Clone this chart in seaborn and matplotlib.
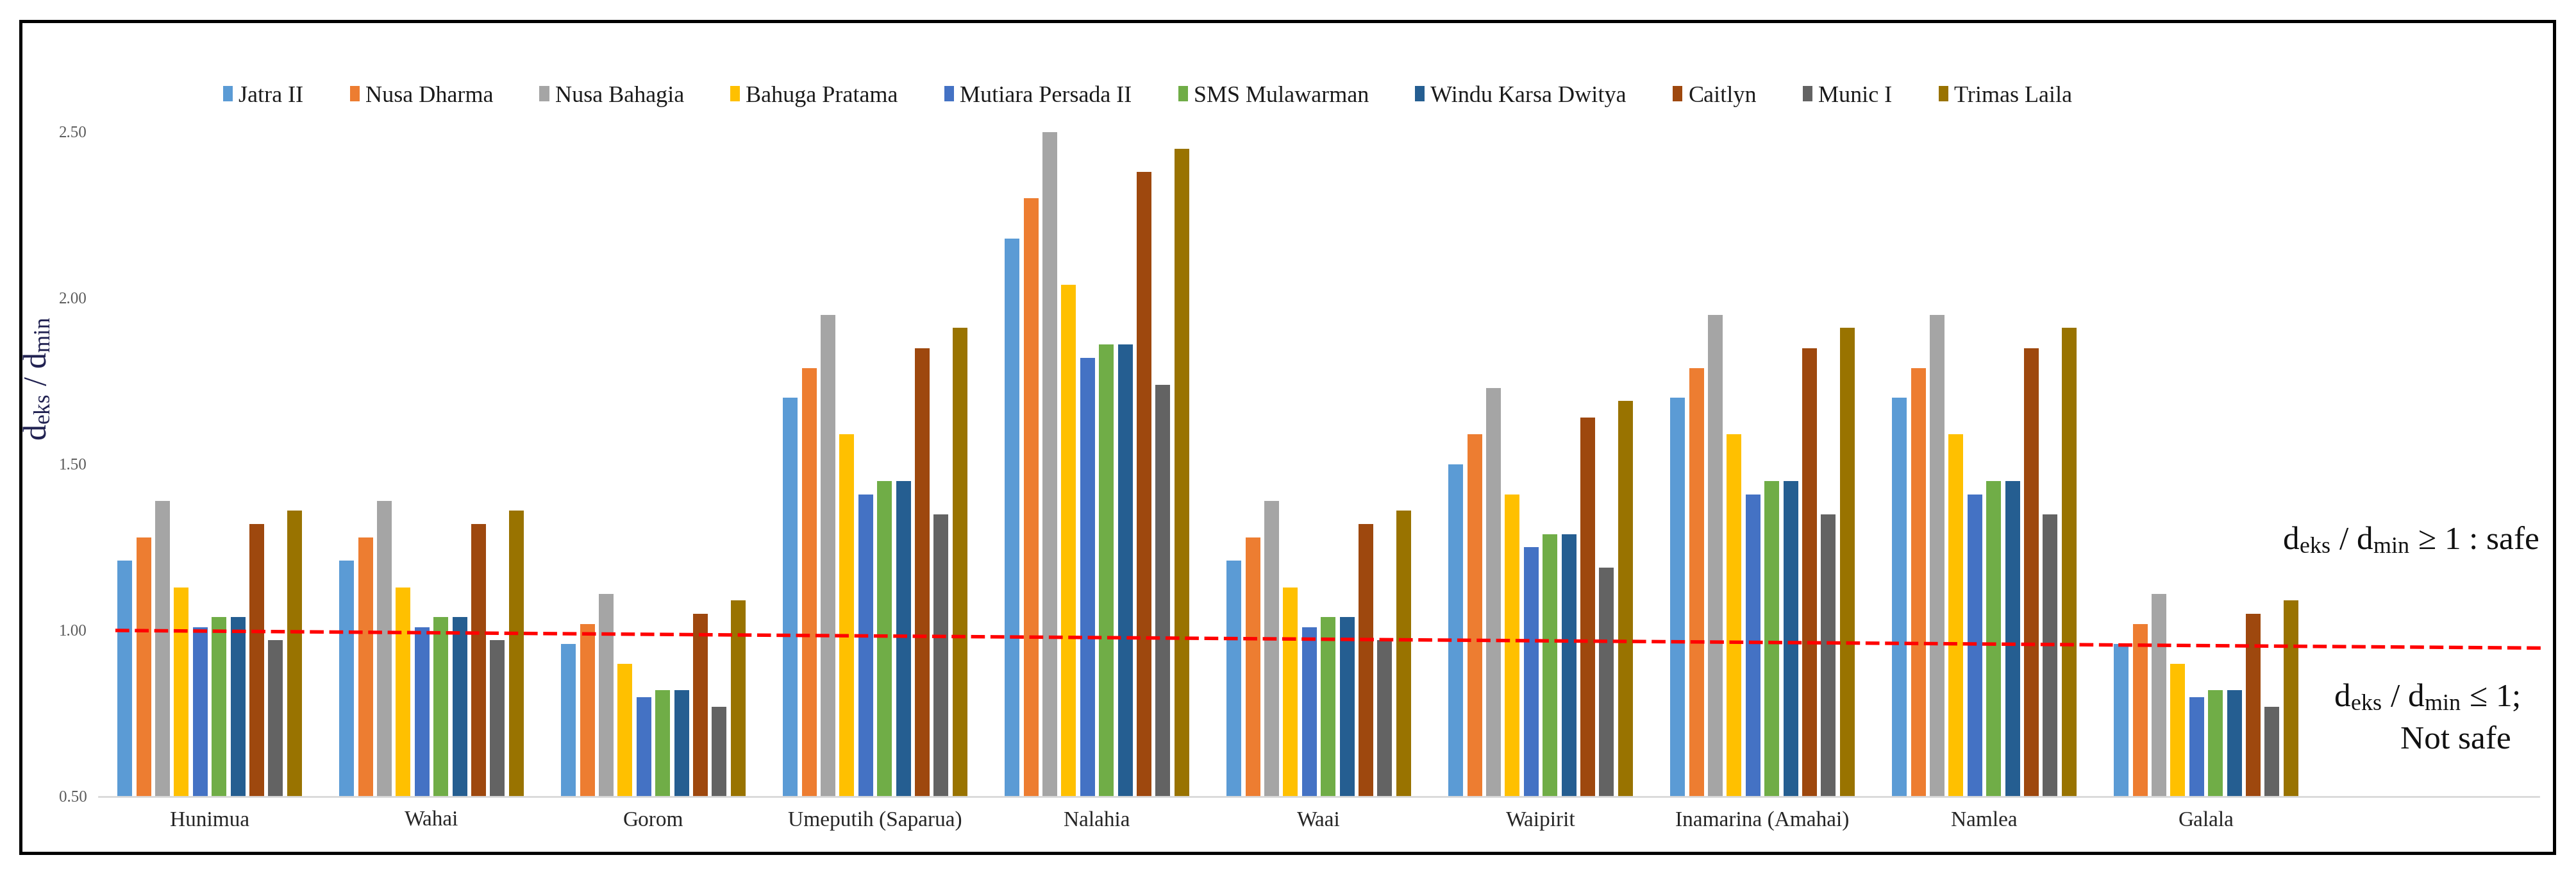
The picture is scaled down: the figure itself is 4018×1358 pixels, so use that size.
import numpy as np
import pandas as pd
import matplotlib
matplotlib.use("Agg")
import matplotlib.pyplot as plt
from matplotlib.patches import Rectangle
import seaborn as sns

# ---------------- data ----------------
categories = ["Hunimua", "Wahai", "Gorom", "Umeputih (Saparua)", "Nalahia",
              "Waai", "Waipirit", "Inamarina (Amahai)", "Namlea", "Galala"]

series_names = ["Jatra II", "Nusa Dharma", "Nusa Bahagia", "Bahuga Pratama",
                "Mutiara Persada II", "SMS Mulawarman", "Windu Karsa Dwitya",
                "Caitlyn", "Munic I", "Trimas Laila"]

jatra_ii        = [1.21, 1.21, 0.96, 1.70, 2.18, 1.21, 1.50, 1.70, 1.70, 0.96]
nusa_dharma     = [1.28, 1.28, 1.02, 1.79, 2.30, 1.28, 1.59, 1.79, 1.79, 1.02]
nusa_bahagia    = [1.39, 1.39, 1.11, 1.95, 2.50, 1.39, 1.73, 1.95, 1.95, 1.11]
bahuga_pratama  = [1.13, 1.13, 0.90, 1.59, 2.04, 1.13, 1.41, 1.59, 1.59, 0.90]
mutiara_persada = [1.01, 1.01, 0.80, 1.41, 1.82, 1.01, 1.25, 1.41, 1.41, 0.80]
sms_mulawarman  = [1.04, 1.04, 0.82, 1.45, 1.86, 1.04, 1.29, 1.45, 1.45, 0.82]
windu_karsa     = [1.04, 1.04, 0.82, 1.45, 1.86, 1.04, 1.29, 1.45, 1.45, 0.82]
caitlyn         = [1.32, 1.32, 1.05, 1.85, 2.38, 1.32, 1.64, 1.85, 1.85, 1.05]
munic_i         = [0.97, 0.97, 0.77, 1.35, 1.74, 0.97, 1.19, 1.35, 1.35, 0.77]
trimas_laila    = [1.36, 1.36, 1.09, 1.91, 2.45, 1.36, 1.69, 1.91, 1.91, 1.09]

y_ticks = [0.50, 1.00, 1.50, 2.00, 2.50]
limit_line_x = [-0.425, 10.52]
limit_line_y = [1.00, 0.947]

colors = ["#5B9BD5", "#ED7D31", "#A5A5A5", "#FFC000", "#4472C4",
          "#70AD47", "#255E91", "#9E480E", "#636363", "#997300"]

values = [jatra_ii, nusa_dharma, nusa_bahagia, bahuga_pratama, mutiara_persada,
          sms_mulawarman, windu_karsa, caitlyn, munic_i, trimas_laila]

rows = []
for name, vals in zip(series_names, values):
    for cat, v in zip(categories, vals):
        rows.append({"Location": cat, "Ship": name, "Ratio": v})
df = pd.DataFrame(rows)

# ---------------- style ----------------
sns.set_theme(style="white")
plt.rcParams["font.family"] = ["Liberation Serif", "DejaVu Serif"]
plt.rcParams["mathtext.fontset"] = "custom"
plt.rcParams["mathtext.rm"] = "Liberation Serif"
plt.rcParams["mathtext.it"] = "Liberation Serif:italic"

W, H = 4018, 1358
fig = plt.figure(figsize=(W / 100, H / 100), dpi=100)
fig.patch.set_facecolor("white")

ax_left, ax_right = 154 / W, 3960 / W
ax_bottom = 1 - 1242 / H
ax_top = 1 - 154 / H
ax = fig.add_axes([ax_left, ax_bottom, ax_right - ax_left, ax_top - ax_bottom])

sns.barplot(data=df, x="Location", y="Ratio", hue="Ship",
            order=categories, hue_order=series_names, palette=colors,
            saturation=1, width=0.85, gap=0.22, errorbar=None,
            edgecolor="none", linewidth=0, ax=ax)

ax.set_xlim(-0.5, 10.5)
ax.set_ylim(0.5, 2.6)
ax.set_yticks(y_ticks)
ax.set_yticklabels([f"{t:.2f}" for t in y_ticks])
ax.tick_params(axis="y", length=0, pad=13, labelsize=18, labelcolor="#595959")
ax.tick_params(axis="x", length=0, pad=16, labelsize=24, labelcolor="#262626")
ax.set_xlabel("")
ax.set_ylabel("")

for s in ["top", "right", "left"]:
    ax.spines[s].set_visible(False)
ax.spines["bottom"].set_color("#D9D9D9")
ax.spines["bottom"].set_linewidth(2)

# y label
fig.text(60 / W, 1 - 590 / H, r"d$_{\mathrm{eks}}$ / d$_{\mathrm{min}}$",
         rotation=90, ha="center", va="center", fontsize=36, color="#1f2050")

# red threshold line
ax.plot(limit_line_x, limit_line_y, color="#FF0000", lw=3.9,
        dashes=(4, 1.6), clip_on=False, zorder=5)

# legend
handles, labels = ax.get_legend_handles_labels()
if ax.legend_ is not None:
    ax.legend_.remove()
fig.legend(handles, labels, loc="center", bbox_to_anchor=(1790 / W, 1 - 150 / H),
           ncol=10, frameon=False, fontsize=26, handlelength=0.42,
           handleheight=0.64, handletextpad=0.25, columnspacing=2.0,
           labelcolor="#1a1a1a")

# annotations
fig.text(3961 / W, 1 - 844 / H,
         r"d$_{\mathrm{eks}}$ / d$_{\mathrm{min}}$ ≥ 1 : safe",
         ha="right", va="center", fontsize=37, color="#111111")
fig.text(3930 / W, 1 - 1088 / H,
         r"d$_{\mathrm{eks}}$ / d$_{\mathrm{min}}$ ≤ 1;",
         ha="right", va="center", fontsize=37, color="#111111")
fig.text(3917 / W, 1 - 1155 / H, "Not safe",
         ha="right", va="center", fontsize=37, color="#111111")

# outer frame
fig.patches.append(Rectangle((32 / W, 1 - 1330 / H), (3984 - 32) / W,
                             (1330 - 33) / H, transform=fig.transFigure,
                             fill=False, edgecolor="black", linewidth=3.6,
                             zorder=10))

fig.savefig("out.png", dpi=100, facecolor="white")
